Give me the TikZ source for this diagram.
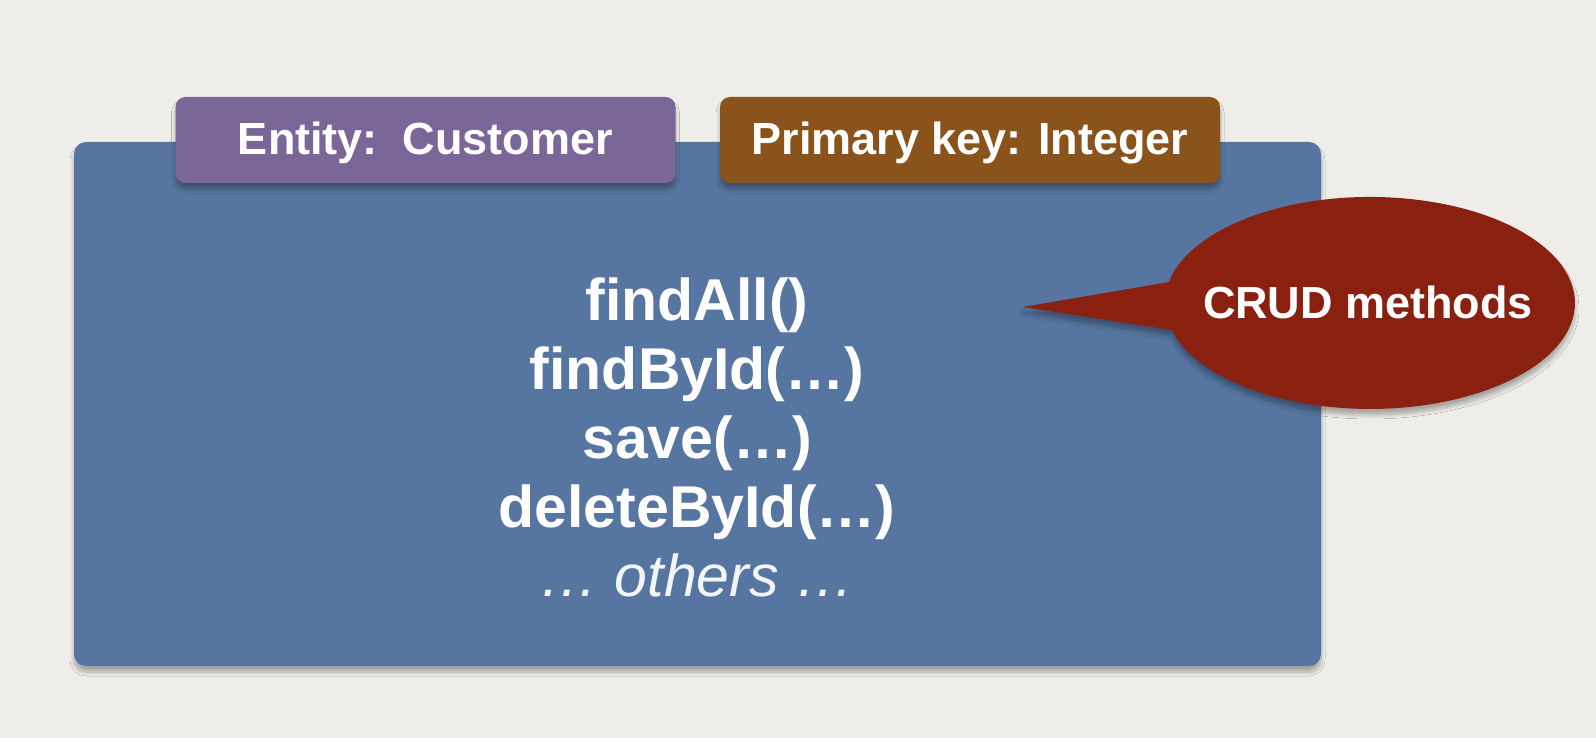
\documentclass[tikz,border=0pt]{standalone}
\usepackage{fontspec}
\setmainfont{Liberation Sans}
\usepackage{tikz}
\usetikzlibrary{shapes,shadows,shadows.blur}
\usetikzlibrary{calc}

\definecolor{paper}{HTML}{EFEDE9}
\definecolor{repoblue}{HTML}{5675A0}
\definecolor{entitypurple}{HTML}{7A6797}
\definecolor{keybrown}{HTML}{8B531C}
\definecolor{crudred}{HTML}{892010}
\definecolor{othertext}{HTML}{F4F5F8}

\begin{document}
\begin{tikzpicture}[x=1pt,y=1pt,
	shade/.style={blur shadow={shadow xshift=0pt, shadow yshift=-6pt, shadow blur radius=4pt, shadow blur steps=8, shadow opacity=30}},
	panel/.style={fill=repoblue, rounded corners=12pt, inner sep=0pt, shade},
	tab/.style={rounded corners=10pt, minimum width=500pt, minimum height=86pt, inner sep=0pt, shade},
	label/.style={text=white, font=\fontsize{45}{50}\selectfont\bfseries, text height=34pt, text depth=4pt},
	method/.style={text=white, font=\fontsize{59}{69}\selectfont\bfseries, anchor=base, inner sep=0pt},
]

	% paper
	\fill[paper] (0,0) rectangle (1596,-738);
	\useasboundingbox (0,0) rectangle (1596,-738);

	% repository box and its two tabs
	\node[panel, minimum width=1247pt, minimum height=524pt] (repo) at (697.5,-404) {};
	\node[tab, fill=entitypurple, label] (entity) at (425.5,-140) {Entity:\ \ Customer};
	\node[tab, fill=keybrown, label] (key) at (970,-140) {Primary key: Integer};

	% speech bubble
	\coordinate (tip) at (1023,-307);
	\fill[crudred, shade] (tip) -- (1169,-282)
		arc[start angle=168.6, end angle=-165.2, x radius=205, y radius=106] -- cycle;
	\node[label, inner sep=0pt] (crud) at (1368,-303) {CRUD methods};

	% methods
	\foreach \m [count=\i from 0] in {findAll(), findById(…), save(…), deleteById(…)}
		\node[method] (m\i) at (697,-320-69*\i) {\m};
	\node[method, font=\fontsize{59}{69}\selectfont\itshape, text=othertext] (others) at (697,-596) {… others …};

\end{tikzpicture}
\end{document}
